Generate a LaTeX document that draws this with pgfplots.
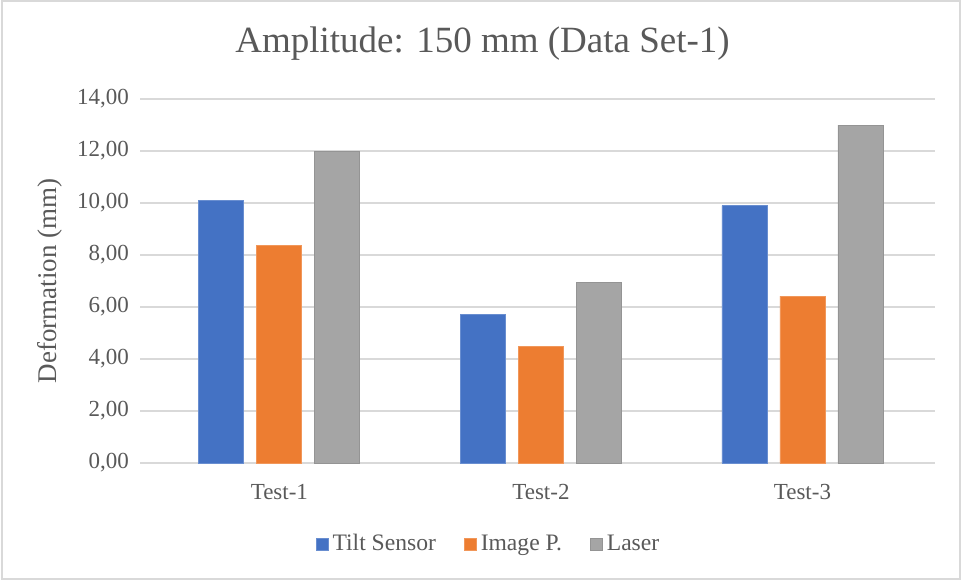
\documentclass[border=0pt]{standalone}
\usepackage{pgfplots}
\pgfplotsset{compat=1.18}
\usepackage{fontspec}
\setmainfont{Liberation Serif}
\definecolor{cBlue}{HTML}{4472C4}
\definecolor{cOrange}{HTML}{ED7D31}
\definecolor{cGray}{HTML}{A5A5A5}
\definecolor{txt}{HTML}{595959}
\definecolor{gridc}{HTML}{D9D9D9}
\begin{document}
\begin{tikzpicture}
\path[use as bounding box] (0pt,0pt) rectangle (480.5pt,290pt);
\draw[gridc, line width=1pt] (0.75pt,0.75pt) rectangle (479.75pt,289.25pt);
\node[anchor=base, text=txt, font=\rmfamily\fontsize{18.5}{21}\selectfont] at (241.25pt,264pt) {Amplitude: 150 mm (Data Set-1)};
\begin{axis}[
  at={(70pt,58.5pt)}, anchor=south west,
  scale only axis, width=397.5pt, height=182pt,
  xmin=-0.533, xmax=2.507, ymin=0, ymax=14,
  ytick={0,2,...,14},
  xtick={0,1,2}, xticklabels={Test-1,Test-2,Test-3},
  ybar=6.5pt, bar width=22.5pt,
  axis line style={draw=none},
  major tick length=0pt,
  xmajorgrids=false,
  ymajorgrids, grid style={draw=gridc, line width=1pt},
  tick label style={text=txt, font=\rmfamily\fontsize{11.5}{13}\selectfont},
  xticklabel style={yshift=-7pt},
  yticklabel style={xshift=-2pt},
  /pgf/number format/.cd, use comma, fixed, fixed zerofill, precision=2, 1000 sep={}, assume math mode=true,
  /pgfplots/.cd,
  ylabel={Deformation (mm)},
  ylabel style={at={(axis description cs:-0.1132,0.5)}, anchor=center, text=txt, font=\rmfamily\fontsize{13.5}{15}\selectfont},
  legend columns=3,
  legend style={at={(0.5,0)}, anchor=center, xshift=-24pt, yshift=-40.5pt, draw=none, fill=none,
    text=txt, font=\rmfamily\fontsize{11.8}{13}\selectfont,
    /tikz/every even column/.append style={column sep=12pt}},
  legend image code/.code={\fill[#1] (0pt,-3pt) rectangle (6pt,3pt);},
  clip=false,
]
\draw[gridc, line width=1pt] (axis cs:-0.533,0) -- (axis cs:2.507,0);
\addplot[fill=cBlue, draw=cBlue!80!white] coordinates {(0,10.1) (1,5.7) (2,9.9)};
\addplot[fill=cOrange, draw=cOrange!80!white] coordinates {(0,8.38) (1,4.5) (2,6.42)};
\addplot[fill=cGray, draw=cGray!90!black] coordinates {(0,12.0) (1,6.96) (2,13.0)};
\legend{Tilt Sensor, Image P., Laser}
\end{axis}
\end{tikzpicture}
\end{document}
